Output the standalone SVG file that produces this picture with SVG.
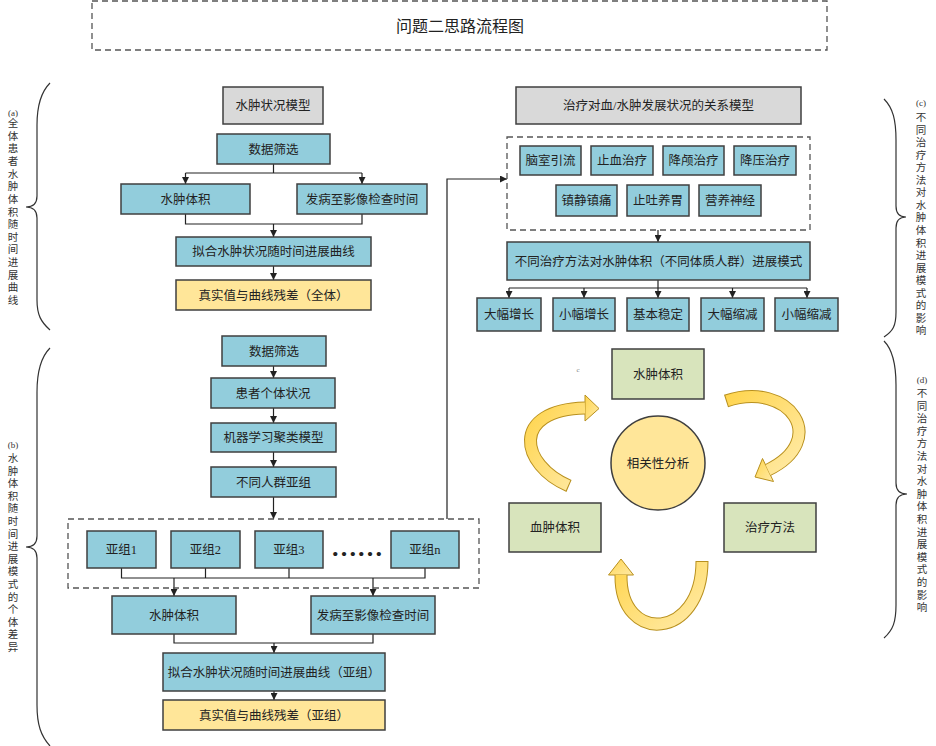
<svg xmlns="http://www.w3.org/2000/svg" width="936" height="746" viewBox="0 0 936 746">
<defs>
<style>
text{font-family:"Liberation Serif","Noto Sans CJK SC",serif;fill:#222;}
.t{font-size:12.5px;text-anchor:middle;}
.v{font-size:10.5px;text-anchor:middle;fill:#333;}
.vl{font-size:9px;text-anchor:middle;fill:#333;}
.blue{fill:#92cddc;stroke:#3f3f3f;stroke-width:1.5;}
.grey{fill:#d9d9d9;stroke:#3f3f3f;stroke-width:1.5;}
.yel{fill:#ffe699;stroke:#3f3f3f;stroke-width:1.5;}
.grn{fill:#d8e4bc;stroke:#3f3f3f;stroke-width:1.5;}
.dash{fill:none;stroke:#555;stroke-width:1.3;stroke-dasharray:6 4;}
.ln{fill:none;stroke:#222;stroke-width:1.2;}
.ar{fill:none;stroke:#222;stroke-width:1.2;marker-end:url(#ah);}
.brace{fill:none;stroke:#333;stroke-width:1.2;}
.cu{fill:none;stroke:#b8901e;stroke-width:13;}
.ci{fill:none;stroke:url(#gy);stroke-width:11;stroke-dasharray:0 1 3000;}
.hd{fill:url(#gy);stroke:#b8901e;stroke-width:1;}
</style>
<marker id="ah" markerWidth="7" markerHeight="7" refX="7" refY="3.5" orient="auto" markerUnits="userSpaceOnUse">
<path d="M0,0 L7,3.5 L0,7 z" fill="#222"/>
</marker>
<linearGradient id="gy" x1="0" y1="0" x2="1" y2="1">
<stop offset="0" stop-color="#ffd54f"/>
<stop offset="1" stop-color="#ffeaa6"/>
</linearGradient>
</defs>
<rect width="936" height="746" fill="#fff"/>

<g id="title">
<rect x="92" y="1" width="735" height="49" class="dash"/>
<text x="460" y="32" style="font-size:16px;text-anchor:middle">问题二思路流程图</text>
</g>

<g id="connectors">
<path class="ln" d="M273.5 164 V173 M185.5 173 H362"/>
<path class="ar" d="M185.5 173 V184"/>
<path class="ar" d="M362 173 V184"/>
<path class="ln" d="M185.5 214 V224 H362 V214"/>
<path class="ar" d="M273.5 224 V237"/>
<path class="ar" d="M273.5 266 V280"/>

<path class="ar" d="M273.5 366 V378"/>
<path class="ar" d="M273.5 408 V423"/>
<path class="ar" d="M273.5 452 V467"/>
<path class="ar" d="M273.5 497 V519"/>
<path class="ln" d="M121.5 568 V578 H425 V568 M205.5 568 V578 M289 568 V578"/>
<path class="ar" d="M174 578 V596"/>
<path class="ar" d="M373 578 V596"/>
<path class="ln" d="M174 634 V643 H373 V634"/>
<path class="ar" d="M274 643 V653"/>
<path class="ar" d="M274 691 V700"/>
<path class="ar" d="M447 519 V179 H507"/>

<path class="ar" d="M658 230 V242"/>
<path class="ln" d="M658 280 V288 M509 288 H807"/>
<path class="ar" d="M509 288 V298"/>
<path class="ar" d="M584 288 V298"/>
<path class="ar" d="M658 288 V298"/>
<path class="ar" d="M732.5 288 V298"/>
<path class="ar" d="M807 288 V298"/>
</g>

<g id="braces">
<path class="brace" d="M50 83 C41 92 37 105 37 125 L37 196 Q37 207 26 207 Q37 207 37 218 L37 300 C37 315 41 322 50 330"/>
<path class="brace" d="M50 348 C41 357 37 372 37 392 L37 536 Q37 547 26 547 Q37 547 37 558 L37 705 C37 725 41 736 50 746"/>
<path class="brace" d="M884 99 C893 108 896 120 896 140 L896 206 Q896 217 906 217 Q896 217 896 228 L896 312 C896 326 893 331 884 337"/>
<path class="brace" d="M884 341 C893 350 896 365 896 385 L896 483 Q896 494 907 494 Q896 494 896 505 L896 605 C896 622 893 630 884 638"/>
</g>

<g id="labels">
<text class="vl" x="13" y="116">(a)</text>
<text class="v" x="13 13 13 13 13 13 13 13 13 13 13 13 13 13 13" y="127 139.6 152.3 164.9 177.6 190.2 202.8 215.5 228.1 240.8 253.4 266 278.7 291.3 304">全体患者水肿体积随时间进展曲线</text>
<text class="vl" x="13" y="448">(b)</text>
<text class="v" x="13 13 13 13 13 13 13 13 13 13 13 13 13 13 13 13" y="462 474.6 487.2 499.8 512.4 525 537.6 550.2 562.8 575.4 588 600.6 613.2 625.8 638.4 651">水肿体积随时间进展模式的个体差异</text>
<text class="vl" x="921" y="106">(c)</text>
<text class="v" x="921 921 921 921 921 921 921 921 921 921 921 921 921 921 921 921 921 921" y="121 133.6 146.1 158.7 171.2 183.8 196.3 208.9 221.4 234 246.5 259.1 271.6 284.2 296.7 309.3 321.8 334.4">不同治疗方法对水肿体积进展模式的影响</text>
<text class="vl" x="922" y="383">(d)</text>
<text class="v" x="922 922 922 922 922 922 922 922 922 922 922 922 922 922 922 922 922 922" y="397 409.6 422.2 434.8 447.4 460 472.6 485.2 497.8 510.4 523 535.6 548.2 560.8 573.4 586 598.6 611.2">不同治疗方法对水肿体积进展模式的影响</text>
</g>

<g id="a-model"><rect class="grey" x="223" y="87" width="100" height="37"/><text class="t" x="273" y="110">水肿状况模型</text></g>
<g id="a-filter"><rect class="blue" x="217" y="134" width="113" height="30"/><text class="t" x="273.5" y="153.5">数据筛选</text></g>
<g id="a-edema"><rect class="blue" x="121" y="184" width="129" height="30"/><text class="t" x="185.5" y="203.5">水肿体积</text></g>
<g id="a-onset"><rect class="blue" x="297" y="184" width="130" height="30"/><text class="t" x="362" y="203.5">发病至影像检查时间</text></g>
<g id="a-fit"><rect class="blue" x="176" y="237" width="195" height="29"/><text class="t" x="273.5" y="256">拟合水肿状况随时间进展曲线</text></g>
<g id="a-residual"><rect class="yel" x="176" y="280" width="195" height="30"/><text class="t" x="273.5" y="299.5">真实值与曲线残差（全体）</text></g>

<g id="b-filter"><rect class="blue" x="222" y="336" width="104" height="30"/><text class="t" x="274" y="355.5">数据筛选</text></g>
<g id="b-patient"><rect class="blue" x="211" y="378" width="124" height="30"/><text class="t" x="273" y="397.5">患者个体状况</text></g>
<g id="b-ml"><rect class="blue" x="211" y="423" width="125" height="29"/><text class="t" x="273.5" y="442">机器学习聚类模型</text></g>
<g id="b-groups"><rect class="blue" x="211" y="467" width="125" height="30"/><text class="t" x="273.5" y="486.5">不同人群亚组</text></g>
<g id="b-subgroups">
<rect class="dash" x="68" y="519" width="411" height="69"/>
</g>
<g id="sub1"><rect class="blue" x="87" y="531" width="69" height="37"/><text class="t" x="121.5" y="554">亚组1</text></g>
<g id="sub2"><rect class="blue" x="171" y="531" width="69" height="37"/><text class="t" x="205.5" y="554">亚组2</text></g>
<g id="sub3"><rect class="blue" x="255" y="531" width="68" height="37"/><text class="t" x="289" y="554">亚组3</text></g>
<g id="dots"><text x="331" y="556" style="font-size:26px;font-weight:bold">……</text></g>
<g id="subn"><rect class="blue" x="391" y="531" width="68" height="37"/><text class="t" x="425" y="554">亚组n</text></g>
<g id="b-edema"><rect class="blue" x="112" y="596" width="124" height="38"/><text class="t" x="174" y="619.5">水肿体积</text></g>
<g id="b-onset"><rect class="blue" x="311" y="596" width="124" height="38"/><text class="t" x="373" y="619.5">发病至影像检查时间</text></g>
<g id="b-fit"><rect class="blue" x="163" y="653" width="222" height="38"/><text class="t" x="274" y="676.5">拟合水肿状况随时间进展曲线（亚组）</text></g>
<g id="b-residual"><rect class="yel" x="163" y="700" width="222" height="30"/><text class="t" x="274" y="719.5">真实值与曲线残差（亚组）</text></g>

<g id="c-model"><rect class="grey" x="516" y="87" width="285" height="37"/><text class="t" x="658.5" y="110">治疗对血/水肿发展状况的关系模型</text></g>
<g id="c-treatments"><rect class="dash" x="507" y="137" width="303" height="93"/></g>
<g id="tr1"><rect class="blue" x="520" y="146" width="61" height="29"/><text class="t" x="550.5" y="165">脑室引流</text></g>
<g id="tr2"><rect class="blue" x="591" y="146" width="62" height="29"/><text class="t" x="622" y="165">止血治疗</text></g>
<g id="tr3"><rect class="blue" x="663" y="146" width="61" height="29"/><text class="t" x="693.5" y="165">降颅治疗</text></g>
<g id="tr4"><rect class="blue" x="734" y="146" width="62" height="29"/><text class="t" x="765" y="165">降压治疗</text></g>
<g id="tr5"><rect class="blue" x="556" y="185" width="61" height="31"/><text class="t" x="586.5" y="205">镇静镇痛</text></g>
<g id="tr6"><rect class="blue" x="627" y="185" width="62" height="31"/><text class="t" x="658" y="205">止吐养胃</text></g>
<g id="tr7"><rect class="blue" x="699" y="185" width="62" height="31"/><text class="t" x="730" y="205">营养神经</text></g>
<g id="c-pattern"><rect class="blue" x="507" y="242" width="303" height="38"/><text class="t" x="658.5" y="265.5">不同治疗方法对水肿体积（不同体质人群）进展模式</text></g>
<g id="o1"><rect class="blue" x="477" y="298" width="64" height="33"/><text class="t" x="509" y="319">大幅增长</text></g>
<g id="o2"><rect class="blue" x="553" y="298" width="62" height="33"/><text class="t" x="584" y="319">小幅增长</text></g>
<g id="o3"><rect class="blue" x="627" y="298" width="62" height="33"/><text class="t" x="658" y="319">基本稳定</text></g>
<g id="o4"><rect class="blue" x="701" y="298" width="63" height="33"/><text class="t" x="732.5" y="319">大幅缩减</text></g>
<g id="o5"><rect class="blue" x="775" y="298" width="63" height="33"/><text class="t" x="806.5" y="319">小幅缩减</text></g>

<g id="d-cycle-arrows">
<path class="cu" d="M569 486 C520 465 510 410 585 408"/>
<polygon class="hd" points="585,395 599,408.5 585,421"/>
<path class="ci" d="M569 486 C520 465 510 410 585 408"/>
<path class="cu" d="M726 401 C790 380 830 440 768 470"/>
<polygon class="hd" points="762.5,458.5 755,477 773.5,481.5"/>
<path class="ci" d="M726 401 C790 380 830 440 768 470"/>
<path class="cu" d="M702 561 C702 640 620 645 621 575"/>
<polygon class="hd" points="608.5,575 621,559 633.5,575"/>
<path class="ci" d="M702 561 C702 640 620 645 621 575"/>
</g>
<g id="d-edema"><rect class="grn" x="612" y="349" width="92" height="50"/><text class="t" x="658" y="378.5">水肿体积</text></g>
<g id="d-center"><circle cx="658" cy="463" r="47" fill="#ffe699" stroke="#3f3f3f" stroke-width="1.5"/><text class="t" x="658" y="467.5">相关性分析</text></g>
<g id="d-hematoma"><rect class="grn" x="509" y="503" width="92" height="49"/><text class="t" x="555" y="532">血肿体积</text></g>
<g id="d-treatment"><rect class="grn" x="724" y="503" width="92" height="49"/><text class="t" x="770" y="532">治疗方法</text></g>
<text x="578" y="372" style="font-size:7px;fill:#777;text-anchor:middle">c</text>
</svg>
